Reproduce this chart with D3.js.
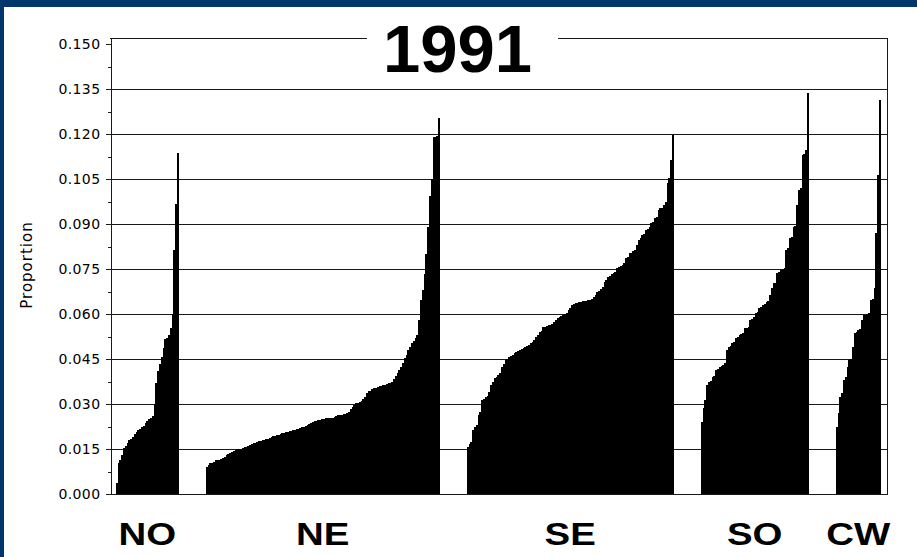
<!DOCTYPE html>
<html>
<head>
<meta charset="utf-8">
<script src="https://cdn.jsdelivr.net/npm/d3@7/dist/d3.min.js"></script>
<style>
  html, body { margin: 0; padding: 0; background: #ffffff; }
  svg { display: block; }
</style>
</head>
<body>
<svg id="chart" width="917" height="557"></svg>
<script>
// ---------------- DATA ----------------
const title = "1991";
const yLabel = "Proportion";
const regions = ["NO", "NE", "SE", "SO", "CW"];
const yTicks = [0.000, 0.015, 0.030, 0.045, 0.060, 0.075, 0.090, 0.105, 0.120, 0.135, 0.150];
const gridTicks = [0.015, 0.030, 0.045, 0.060, 0.075, 0.090, 0.105, 0.120, 0.135];

const noValues = [0.0036, 0.0103, 0.0113, 0.013, 0.0152, 0.016, 0.017, 0.018, 0.0185, 0.019,
  0.020, 0.0208, 0.0215, 0.0218, 0.0222, 0.0228, 0.0237, 0.0243, 0.0249, 0.0255,
  0.0259, 0.030, 0.037, 0.041, 0.0435, 0.0457, 0.0487, 0.0516, 0.052, 0.053,
  0.0552, 0.060, 0.0813, 0.0967, 0.1136];

const neValues = [0.009, 0.0097, 0.0104, 0.0104, 0.0106, 0.0113, 0.0113, 0.0115, 0.0117, 0.0121,
  0.0123, 0.013, 0.0132, 0.0138, 0.0141, 0.0143, 0.0147, 0.0149, 0.0149, 0.015,
  0.0152, 0.0156, 0.0158, 0.016, 0.0165, 0.0167, 0.0169, 0.017, 0.0174, 0.0176,
  0.0178, 0.018, 0.0181, 0.0183, 0.0185, 0.0187, 0.019, 0.0192, 0.0194, 0.0196,
  0.0198, 0.0201, 0.0203, 0.0205, 0.0207, 0.0208, 0.021, 0.0211, 0.0212, 0.0214,
  0.0216, 0.0218, 0.0221, 0.0223, 0.0225, 0.0228, 0.023, 0.0233, 0.0236, 0.0239,
  0.0242, 0.0245, 0.0247, 0.0248, 0.025, 0.0251, 0.0252, 0.0252, 0.0253, 0.0254,
  0.0255, 0.0257, 0.0259, 0.0262, 0.0263, 0.0264, 0.0266, 0.0268, 0.027, 0.0275,
  0.0285, 0.029, 0.0298, 0.0302, 0.0304, 0.0306, 0.031, 0.0318, 0.0325, 0.0338,
  0.0342, 0.0345, 0.035, 0.0353, 0.0355, 0.0357, 0.0359, 0.036, 0.0362, 0.0364,
  0.0367, 0.0369, 0.0371, 0.0375, 0.0382, 0.0392, 0.0405, 0.0415, 0.0425, 0.0438,
  0.0452, 0.0465, 0.048, 0.049, 0.0502, 0.051, 0.052, 0.053, 0.058, 0.0647,
  0.068, 0.0735, 0.080, 0.089, 0.0995, 0.105, 0.1191, 0.1191, 0.1195, 0.1252];

const seValues = [0.0158, 0.0166, 0.0174, 0.0213, 0.0225, 0.023, 0.0265, 0.0275, 0.0313, 0.0316,
  0.0324, 0.0326, 0.034, 0.0363, 0.0375, 0.0386, 0.0389, 0.0397, 0.0405, 0.0424,
  0.0435, 0.0447, 0.0449, 0.0458, 0.046, 0.0465, 0.0469, 0.0472, 0.0478, 0.048,
  0.0483, 0.0486, 0.0491, 0.0493, 0.0496, 0.0504, 0.0508, 0.0515, 0.0524, 0.053,
  0.0541, 0.0545, 0.0556, 0.0558, 0.056, 0.0562, 0.0564, 0.0568, 0.0574, 0.058,
  0.0586, 0.0589, 0.0592, 0.0597, 0.0599, 0.0603, 0.0613, 0.062, 0.063, 0.0633,
  0.0636, 0.0638, 0.064, 0.0641, 0.0643, 0.0644, 0.0645, 0.0646, 0.0648, 0.065,
  0.0658, 0.0663, 0.0674, 0.0678, 0.0682, 0.0689, 0.0708, 0.0712, 0.0724, 0.0728,
  0.0732, 0.0736, 0.074, 0.0752, 0.0756, 0.076, 0.0763, 0.077, 0.0786, 0.079,
  0.0802, 0.0805, 0.081, 0.0813, 0.083, 0.0847, 0.0852, 0.0863, 0.0866, 0.088,
  0.0884, 0.089, 0.0902, 0.0908, 0.0919, 0.0925, 0.0947, 0.0952, 0.0955, 0.0965,
  0.0975, 0.1036, 0.1052, 0.1113, 0.1197];

const soValues = [0.0241, 0.0286, 0.0313, 0.0363, 0.0374, 0.0376, 0.0391, 0.0395, 0.0413, 0.0416,
  0.0424, 0.0426, 0.043, 0.0436, 0.048, 0.0491, 0.0493, 0.0502, 0.0506, 0.0519,
  0.0522, 0.053, 0.0533, 0.0536, 0.0552, 0.0555, 0.0558, 0.058, 0.0585, 0.059,
  0.0602, 0.0608, 0.0619, 0.0622, 0.063, 0.0635, 0.0641, 0.0645, 0.0663, 0.0686,
  0.0702, 0.0705, 0.0738, 0.074, 0.0747, 0.075, 0.0755, 0.0813, 0.082, 0.0852,
  0.0858, 0.0891, 0.0895, 0.0963, 0.1013, 0.102, 0.113, 0.1135, 0.1147, 0.1338];

const cwValues = [0.0224, 0.0269, 0.0324, 0.0336, 0.038, 0.039, 0.0424, 0.0447, 0.045, 0.0491,
  0.0536, 0.054, 0.0547, 0.0549, 0.058, 0.0597, 0.0597, 0.060, 0.0602, 0.0647,
  0.065, 0.0686, 0.0869, 0.1063, 0.1313];

const regionValues = [noValues, neValues, seValues, soValues, cwValues];
const gapSlots = 15;

// ---------------- LAYOUT ----------------
const W = 917, H = 557;
const plotLeft = 110, plotRight = 887, plotTop = 38, plotBottom = 494;
const barsLeft = 115.7, barsRight = 880.7;
const border = "#00366b";
const lineCol = "#1a1a1a";

const svg = d3.select("#chart");

// background + frame border
svg.append("rect").attr("x", 0).attr("y", 0).attr("width", W).attr("height", H).attr("fill", "#ffffff");
svg.append("rect").attr("x", 0).attr("y", 0).attr("width", W).attr("height", 7).attr("fill", border);
svg.append("rect").attr("x", 0).attr("y", 0).attr("width", 4).attr("height", H).attr("fill", border);

// build slot list (bars + gaps)
const slots = [];
const barData = [];
regions.forEach((r, ri) => {
  regionValues[ri].forEach((v, i) => {
    const key = r + "-" + i;
    slots.push(key);
    barData.push({ key, region: r, value: v, last: i === regionValues[ri].length - 1 });
  });
  if (ri < regions.length - 1) {
    for (let g = 0; g < gapSlots; g++) slots.push("gap-" + ri + "-" + g);
  }
});

const x = d3.scaleBand().domain(slots).range([barsLeft, barsRight]).padding(0);
const y = d3.scaleLinear().domain([0, 0.152]).range([plotBottom, plotTop]);

// gridlines
svg.append("g").attr("shape-rendering", "crispEdges")
  .selectAll("line").data(gridTicks).join("line")
  .attr("x1", plotLeft).attr("x2", plotRight)
  .attr("y1", d => Math.round(y(d)) + 0.5).attr("y2", d => Math.round(y(d)) + 0.5)
  .attr("stroke", lineCol).attr("stroke-width", 1);

// bars
svg.append("g").attr("shape-rendering", "crispEdges")
  .selectAll("rect").data(barData).join("rect")
  .attr("x", d => x(d.key))
  .attr("width", d => d.last ? x.bandwidth() : x.bandwidth() + 1)
  .attr("y", d => y(d.value))
  .attr("height", d => y(0) - y(d.value))
  .attr("fill", "#000000");

// frame: top, right and bottom lines
const frame = svg.append("g").attr("shape-rendering", "crispEdges");
frame.append("line").attr("x1", plotLeft).attr("x2", plotRight)
  .attr("y1", plotTop + 0.5).attr("y2", plotTop + 0.5).attr("stroke", lineCol).attr("stroke-width", 1);
frame.append("line").attr("x1", plotRight + 0.5).attr("x2", plotRight + 0.5)
  .attr("y1", plotTop).attr("y2", plotBottom + 1).attr("stroke", lineCol).attr("stroke-width", 1);
frame.append("line").attr("x1", plotLeft).attr("x2", plotRight)
  .attr("y1", plotBottom + 0.5).attr("y2", plotBottom + 0.5).attr("stroke", lineCol).attr("stroke-width", 1);

// y axis: major ticks with labels
const yAxis = d3.axisLeft(y).tickValues(yTicks).tickSize(5).tickSizeOuter(0).tickPadding(5)
  .tickFormat(d3.format(".3f"));
const gy = svg.append("g").attr("transform", `translate(${plotLeft + 0.5},0)`).call(yAxis);
gy.select(".domain").attr("stroke", lineCol).attr("stroke-width", 1).attr("shape-rendering", "crispEdges");
gy.selectAll(".tick line").attr("stroke", lineCol).attr("stroke-width", 1).attr("shape-rendering", "crispEdges");
gy.selectAll(".tick text")
  .attr("font-family", "'DejaVu Sans', sans-serif")
  .attr("font-size", 14)
  .attr("letter-spacing", "0.4px")
  .attr("fill", "#000");

// minor ticks
const minorTicks = yTicks.slice(0, -1).map(t => t + 0.0075);
const yMinor = d3.axisLeft(y).tickValues(minorTicks).tickSize(3).tickSizeOuter(0).tickFormat("");
const gm = svg.append("g").attr("transform", `translate(${plotLeft + 0.5},0)`).call(yMinor);
gm.select(".domain").remove();
gm.selectAll(".tick line").attr("stroke", lineCol).attr("stroke-width", 1).attr("shape-rendering", "crispEdges");

// y label
svg.append("text")
  .attr("transform", "translate(31.5,265) rotate(-90)")
  .attr("text-anchor", "middle")
  .attr("font-family", "'DejaVu Sans', sans-serif")
  .attr("font-size", 15)
  .attr("letter-spacing", "1px")
  .attr("fill", "#000")
  .text(yLabel);

// title with white background
const titleX = 457.5;
svg.append("rect").attr("x", 367).attr("y", 28).attr("width", 191).attr("height", 20).attr("fill", "#ffffff");
svg.append("text")
  .attr("x", titleX).attr("y", 72)
  .attr("text-anchor", "middle")
  .attr("font-family", "'Liberation Sans', Arial, sans-serif")
  .attr("font-weight", "bold")
  .attr("font-size", 67)
  .attr("fill", "#000")
  .text(title);

// region labels
regions.forEach((r, ri) => {
  const vals = regionValues[ri];
  const x0 = x(r + "-0");
  const x1 = x(r + "-" + (vals.length - 1)) + x.bandwidth();
  const cx = (x0 + x1) / 2;
  svg.append("text")
    .attr("transform", `translate(${cx},545) scale(1.2,1)`)
    .attr("text-anchor", "middle")
    .attr("font-family", "'Liberation Sans', Arial, sans-serif")
    .attr("font-weight", "bold")
    .attr("font-size", 32)
    .attr("fill", "#000")
    .text(r);
});
</script>
</body>
</html>
